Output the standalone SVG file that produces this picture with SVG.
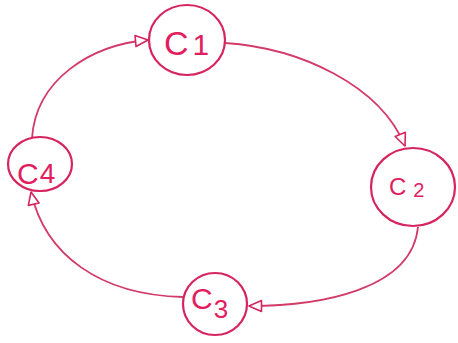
<svg xmlns="http://www.w3.org/2000/svg" width="458" height="343" viewBox="0 0 458 343">
<style>
.node{fill:#fff;stroke:#d6245e;stroke-width:2.2}
.edge{fill:none;stroke:#d23a67;stroke-width:1.8}
.lbl{fill:#e21d60;font-family:"Liberation Sans",Arial,sans-serif}
</style>
<defs>
<marker id="arr" viewBox="0 0 16 14" markerWidth="16" markerHeight="14" refX="14" refY="7" orient="auto" markerUnits="userSpaceOnUse">
<path d="M1.5,1.5 L14,7 L1.5,12.5 Z" fill="#fff" stroke="#d6245e" stroke-width="1.6" stroke-linejoin="round"/>
</marker>
</defs>
<rect width="458" height="343" fill="#fff"/>
<g id="connectors">
<path class="edge" d="M225,43 C300,48 380,85 405,146" marker-end="url(#arr)"/>
<path class="edge" d="M418,227 C412,290 320,306 249,306" marker-end="url(#arr)"/>
<path class="edge" d="M183,297 C100,295 45,255 31,192" marker-end="url(#arr)"/>
<path class="edge" d="M32,138 C36,80 90,45 148,40" marker-end="url(#arr)"/>
</g>
<g id="C1">
<ellipse class="node" cx="187" cy="40" rx="38" ry="35"/>
<text class="lbl" x="164" y="55" font-size="34">C<tspan font-size="30" dx="4">1</tspan></text>
</g>
<g id="C2">
<ellipse class="node" cx="413" cy="187" rx="42" ry="39"/>
<text class="lbl" x="389" y="195" font-size="24">C<tspan font-size="20" dx="7" dy="2">2</tspan></text>
</g>
<g id="C3">
<ellipse class="node" cx="215" cy="304" rx="32" ry="31"/>
<text class="lbl" x="191" y="309" font-size="30">C<tspan font-size="26" dx="1" dy="9">3</tspan></text>
</g>
<g id="C4">
<ellipse class="node" cx="40" cy="164" rx="32" ry="27"/>
<text class="lbl" x="17" y="184" font-size="30">C<tspan font-size="28" dx="1" dy="-1">4</tspan></text>
</g>
</svg>
